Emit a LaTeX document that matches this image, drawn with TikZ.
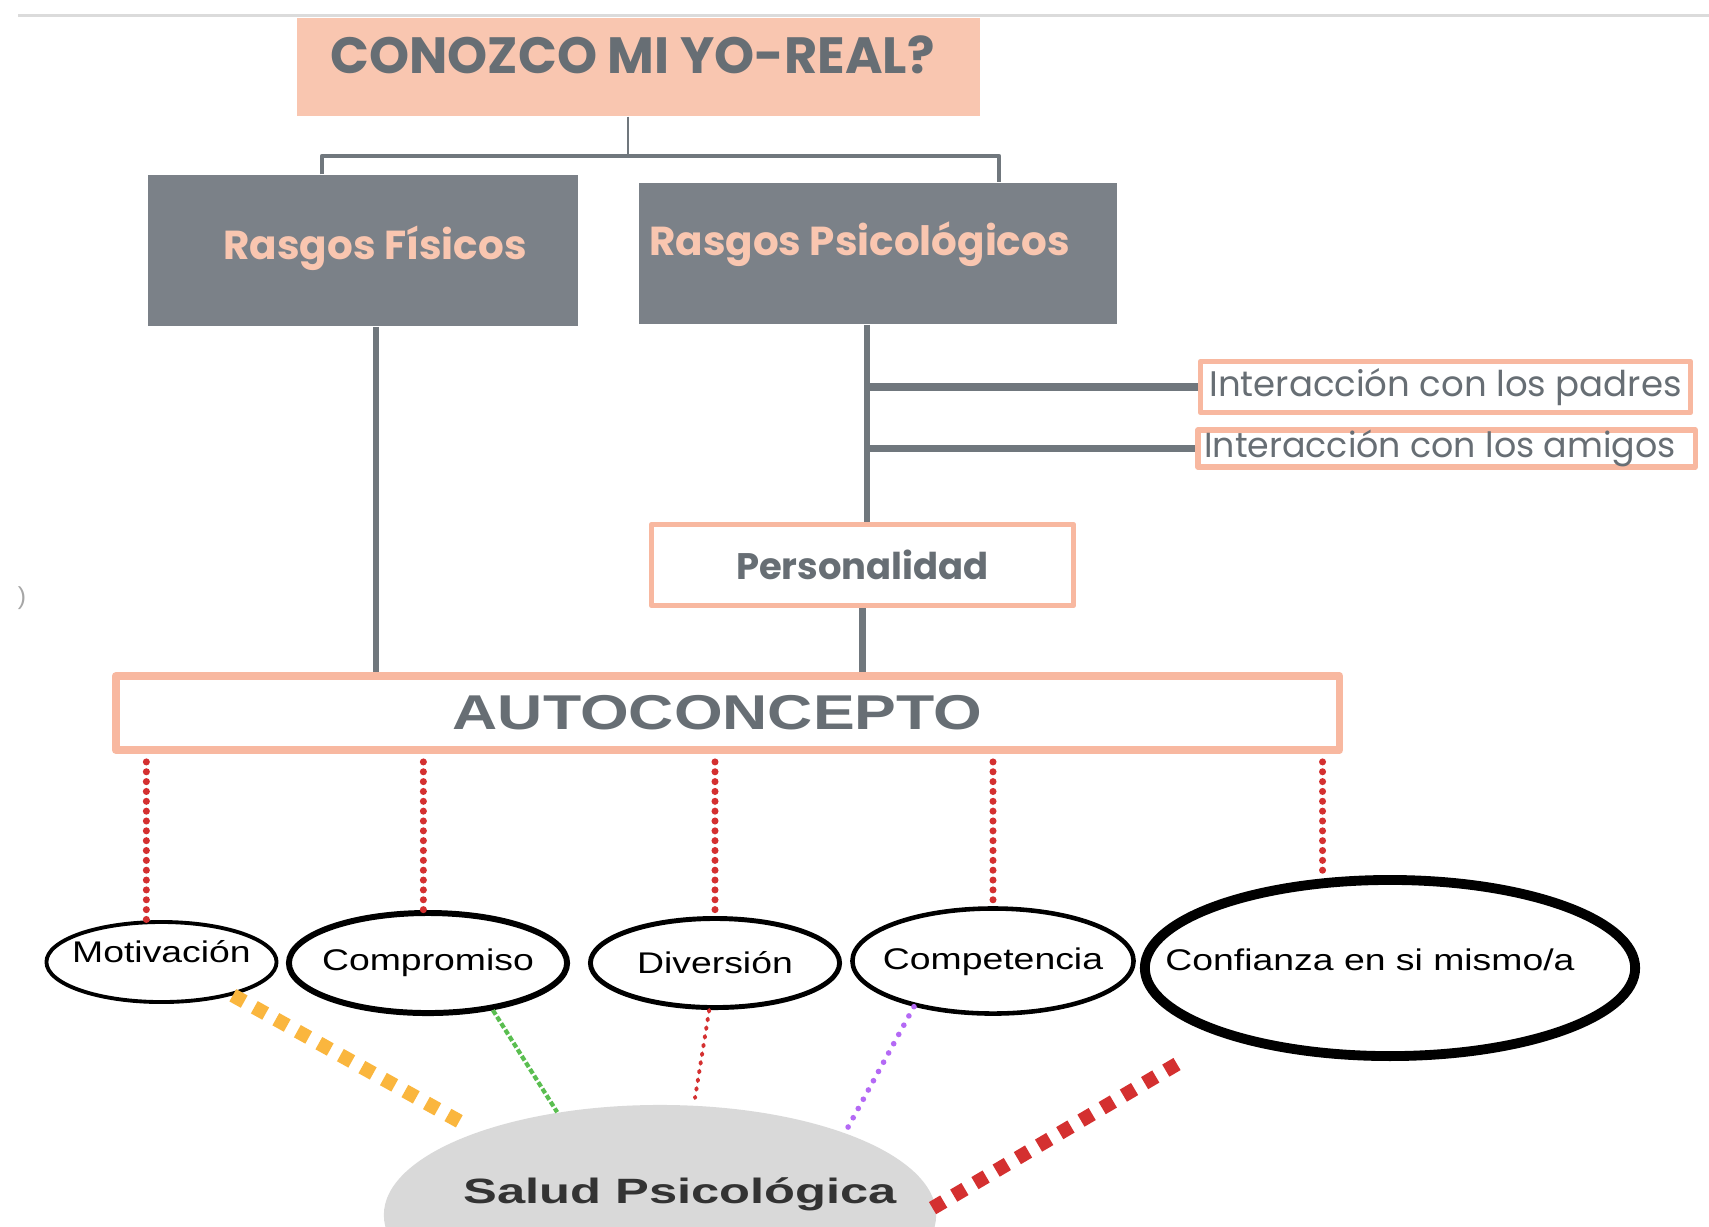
\documentclass[tikz,border=0pt]{standalone}
\usepackage{fontspec}
\setmainfont{Liberation Sans}
\newfontfamily\geofont{Poppins}
\newfontfamily\widefont{Liberation Sans}[FakeStretch=1.25]
\newfontfamily\autofont{Liberation Sans}[FakeStretch=1.28]
\newfontfamily\saludfont{Liberation Sans}[FakeStretch=1.44]
\usetikzlibrary{shapes.geometric}
\definecolor{salmon}{RGB}{249,198,176}
\definecolor{salmonline}{RGB}{248,184,160}
\definecolor{slate}{RGB}{123,129,136}
\definecolor{slatetext}{RGB}{103,110,116}
\definecolor{linkgray}{RGB}{112,119,125}
\definecolor{dotred}{RGB}{212,48,48}
\definecolor{squareorange}{RGB}{250,182,62}
\definecolor{dotgreen}{RGB}{90,190,80}
\definecolor{dotpurple}{RGB}{180,105,245}
\definecolor{saludgray}{RGB}{217,217,217}
\begin{document}
\begin{tikzpicture}[x=0.01cm, y=-0.01cm, line join=round,
  link/.style={draw=linkgray, line width=1.3pt},
  grayblock/.style={rectangle, fill=slate, inner sep=0pt, text=salmon, font=\geofont\bfseries\fontsize{11.5}{13}\selectfont},
  pinkbox/.style={rectangle, draw=salmonline, line width=1.5pt, fill=white, inner sep=0pt, text=slatetext},
  ell/.style={ellipse, draw=black, fill=white, inner sep=0pt, font=\widefont\fontsize{8.5}{10}\selectfont},
  reddots/.style={dotred, line width=2pt, line cap=round, dash pattern=on 0pt off 2.8pt},
  squares/.style={line width=4pt, dash pattern=on 3.7pt off 3.3pt}]
\clip (0,0) rectangle (1709,1226);
\fill[white] (0,0) rectangle (1709,1226);
\draw[black!14, line width=0.85pt] (18,15.6) -- (1709,15.6);
\node[text=black!35, font=\fontsize{7}{8}\selectfont] (parentesis) at (22,598) {)};
% Título
\node[rectangle, fill=salmon, minimum width=6.83cm, minimum height=0.98cm, text height=0.35cm, text depth=0.22cm, text=slatetext, font=\geofont\bfseries\fontsize{14.5}{16}\selectfont] (titulo) at (638.5,66.8) {CONOZCO MI YO-REAL?\rule{1.2mm}{0pt}};
% Rasgos
\node[grayblock, minimum width=4.30cm, minimum height=1.51cm, text height=0.28cm, text depth=0.10cm] (fisicos) at (363,250.5) {\hspace{2.4mm}Rasgos Físicos};
\node[grayblock, minimum width=4.78cm, minimum height=1.41cm, text height=0.28cm, text depth=0.25cm] (psicologicos) at (878,253.5) {Rasgos Psicológicos\rule{3.7mm}{0pt}};
\coordinate (reparto) at (628,156);
\draw[linkgray, line width=0.8pt] (titulo.south -| reparto) -- (reparto);
\draw[link] ([xshift=-4.1mm]fisicos.north) |- (reparto) -| ([xshift=12.1mm]psicologicos.north);
% Interacciones y personalidad
\node[pinkbox, minimum width=4.90cm, minimum height=0.51cm, font=\geofont\fontsize{10.1}{12}\selectfont] (padres) at (1445.5,387) {Interacción con los padres};
\node[pinkbox, minimum width=4.97cm, minimum height=0.34cm, font=\geofont\fontsize{9.9}{12}\selectfont] (amigos) at (1446.5,448.5) {Interacción con los amigos\rule{1.3mm}{0pt}};
\node[pinkbox, minimum width=4.22cm, minimum height=0.81cm, font=\geofont\bfseries\fontsize{10.5}{12}\selectfont] (personalidad) at (862.5,565) {Personalidad};
\coordinate (tronco) at ([xshift=-1.1mm]psicologicos.south);
\draw[link, line width=1.8pt] (tronco) -- (tronco |- personalidad.north);
\draw[link, line width=2.2pt] (tronco |- padres.west) -- (padres.west);
\draw[link, line width=1.8pt] (tronco |- amigos.west) -- (amigos.west);
% Autoconcepto
\node[pinkbox, line width=2.2pt, minimum width=12.23cm, minimum height=0.74cm, font=\autofont\bfseries\fontsize{13.9}{16}\selectfont] (auto) at (727.5,713) {AUTOCONCEPTO\rule{2mm}{0pt}};
\draw[link, line width=1.8pt] ([xshift=1.3mm]fisicos.south) -- ([xshift=1.3mm]fisicos.south |- auto.north);
\draw[link, line width=1.8pt] (personalidad.south) -- (personalidad.south |- auto.north);
% Elipses
\node[ell, line width=1.1pt, minimum width=2.30cm, minimum height=0.80cm, text height=0.21cm, text depth=0.21cm] (motivacion) at (161.5,962) {\makebox[0pt]{Motivación}};
\node[ell, line width=1.7pt, minimum width=2.78cm, minimum height=1.00cm] (compromiso) at (428,963) {\makebox[0pt]{Compromiso}};
\node[ell, line width=1.4pt, minimum width=2.49cm, minimum height=0.89cm] (diversion) at (715,963) {\makebox[0pt]{Diversión}};
\node[ell, line width=1.3pt, minimum width=2.81cm, minimum height=1.05cm, text height=0.21cm, text depth=0.04cm] (competencia) at (993,961) {\makebox[0pt]{Competencia}};
\node[ell, line width=2.8pt, minimum width=4.90cm, minimum height=1.76cm, text height=0.21cm, text depth=0.16cm] (confianza) at (1390,968) {\makebox[0pt]{Confianza en si mismo/a\hspace{4mm}}};
\foreach \n/\a in {motivacion/110, compromiso/95, diversion/90, competencia/90, confianza/127}
  \draw[reddots] ([yshift=-0.8mm]auto.south -| \n.\a) -- (\n.\a);
% Salud psicológica
\node[ellipse, fill=saludgray, inner sep=0pt, minimum width=5.52cm, minimum height=2.20cm, text height=0.25cm, text depth=0.48cm, text=black!80, font=\saludfont\bfseries\fontsize{10}{12}\selectfont] (salud) at (660,1215) {\makebox[0pt]{\hspace{4mm}Salud Psicológica}};
\coordinate (finnaranja) at (466,1125);
\coordinate (finrojo) at (695,1098);
\coordinate (iniciorojo) at (1177,1064);
\coordinate (finrojo2) at (931,1209);
\draw[squares, squareorange] (motivacion.335) -- (finnaranja);
\draw[dotgreen, line width=1.2pt, dash pattern=on 1.5pt off 0.7pt] (compromiso.324) -- (salud.135);
\draw[dotred, line width=1.1pt, line cap=round, dash pattern=on 0.5pt off 2pt] (diversion.263) -- (finrojo);
\draw[dotpurple, line width=1.6pt, line cap=round, dash pattern=on 0pt off 3pt] (competencia.210) -- (salud.24);
\draw[squares, dotred] (iniciorojo) -- (finrojo2);
\end{tikzpicture}
\end{document}
